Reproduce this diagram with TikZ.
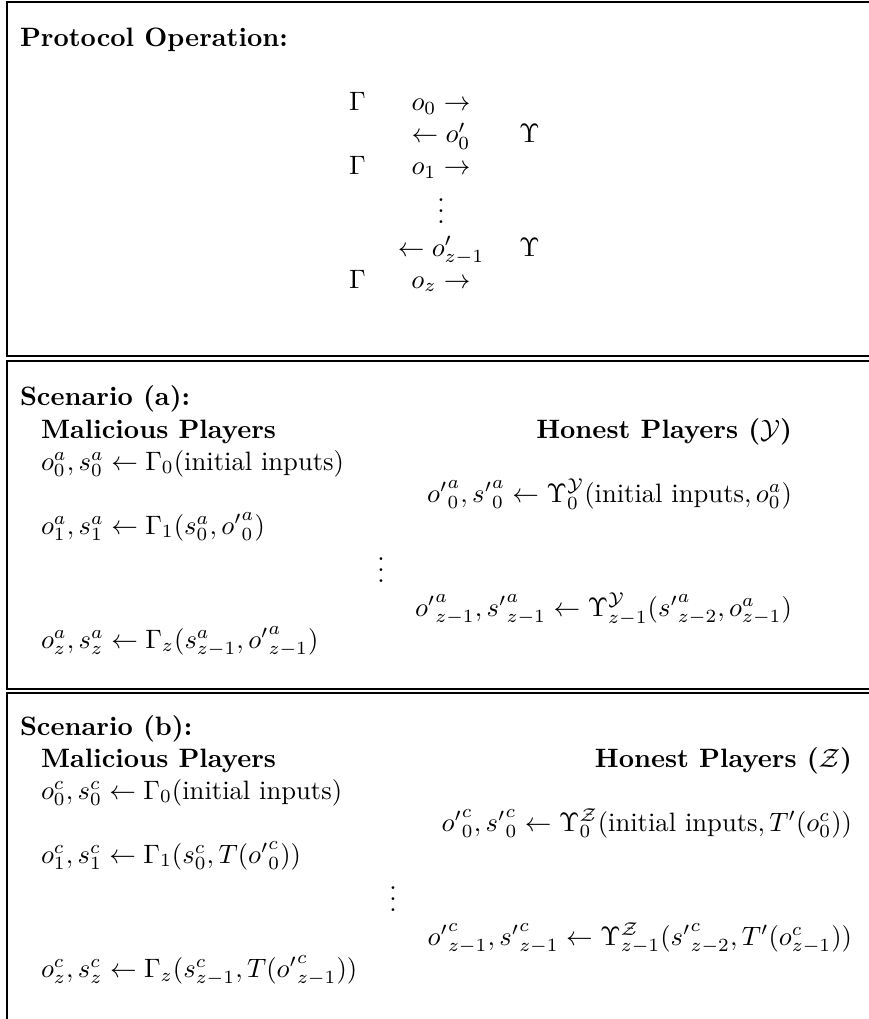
\documentclass[tikz,border=0pt]{standalone}
\usepackage{amsmath}
\usepackage{graphicx}
\newcommand{\bx}[1]{\scalebox{2.66}{#1}}
\begin{document}
\begin{tikzpicture}[x=1pt,y=-1pt,
  every node/.style={inner sep=0pt,outer sep=0pt},
  panel/.style={draw=black,line width=1.6pt},
  lt/.style={anchor=base west},
  rt/.style={anchor=base east},
  ct/.style={anchor=base}]
\useasboundingbox (0,0) rectangle (869,1019);
\clip (0,0) rectangle (869,1019);
% panels
\draw[panel] (7,2) rectangle (880,356);
\draw[panel] (7,361) rectangle (880,689);
\draw[panel] (7,693) rectangle (880,1040);
% protocol operation
\node[lt] (ptitle) at (20,47) {\bx{\textbf{Protocol Operation:}}};
\node[ct] (g0) at (357.5,111) {\bx{$\Gamma$}};
\node[ct] (m0) at (441,111) {\bx{$o_0\rightarrow$}};
\node[ct] (m1) at (441,143) {\bx{$\leftarrow o'_0$}};
\node[ct] (u1) at (529.5,143) {\bx{$\Upsilon$}};
\node[ct] (g2) at (357.5,175) {\bx{$\Gamma$}};
\node[ct] (m2) at (441,175) {\bx{$o_1\rightarrow$}};
\node[ct] (md) at (441,223) {\bx{$\vdots$}};
\node[ct] (m3) at (441,256) {\bx{$\leftarrow o'_{z-1}$}};
\node[ct] (u3) at (529.5,256) {\bx{$\Upsilon$}};
\node[ct] (g4) at (357.5,288) {\bx{$\Gamma$}};
\node[ct] (m4) at (441,288) {\bx{$o_z\rightarrow$}};
% scenario (a)
\node[lt] (atitle) at (20,405) {\bx{\textbf{Scenario (a):}}};
\node[lt] (amal) at (41,438) {\bx{\textbf{Malicious Players}}};
\node[rt] (ahon) at (792,438) {\bx{\textbf{Honest Players ($\mathcal{Y}$)}}};
\node[lt] (a0) at (41,470) {\bx{$o_0^a,s_0^a\leftarrow\Gamma_0(\text{initial inputs})$}};
\node[rt] (a0p) at (792,502) {\bx{${o'}^a_0,{s'}^a_0\leftarrow\Upsilon_0^{\mathcal{Y}}(\text{initial inputs},o_0^a)$}};
\node[lt] (a1) at (41,534) {\bx{$o_1^a,s_1^a\leftarrow\Gamma_1(s_0^a,{o'}^a_0)$}};
\node[ct] (ad) at (381,582) {\bx{$\vdots$}};
\node[rt] (azp) at (792,616) {\bx{${o'}^a_{z-1},{s'}^a_{z-1}\leftarrow\Upsilon_{z-1}^{\mathcal{Y}}({s'}^a_{z-2},o_{z-1}^a)$}};
\node[lt] (az) at (41,648) {\bx{$o_z^a,s_z^a\leftarrow\Gamma_z(s_{z-1}^a,{o'}^a_{z-1})$}};
% scenario (b)
\node[lt] (btitle) at (20,735) {\bx{\textbf{Scenario (b):}}};
\node[lt] (bmal) at (41,767) {\bx{\textbf{Malicious Players}}};
\node[rt] (bhon) at (852,767) {\bx{\textbf{Honest Players ($\mathcal{Z}$)}}};
\node[lt] (b0) at (41,799) {\bx{$o_0^c,s_0^c\leftarrow\Gamma_0(\text{initial inputs})$}};
\node[rt] (b0p) at (852,831) {\bx{${o'}^c_0,{s'}^c_0\leftarrow\Upsilon_0^{\mathcal{Z}}(\text{initial inputs},T'(o_0^c))$}};
\node[lt] (b1) at (41,863) {\bx{$o_1^c,s_1^c\leftarrow\Gamma_1(s_0^c,T({o'}^c_0))$}};
\node[ct] (bd) at (393,911) {\bx{$\vdots$}};
\node[rt] (bzp) at (852,945) {\bx{${o'}^c_{z-1},{s'}^c_{z-1}\leftarrow\Upsilon_{z-1}^{\mathcal{Z}}({s'}^c_{z-2},T'(o_{z-1}^c))$}};
\node[lt] (bz) at (41,977) {\bx{$o_z^c,s_z^c\leftarrow\Gamma_z(s_{z-1}^c,T({o'}^c_{z-1}))$}};
\end{tikzpicture}
\end{document}
